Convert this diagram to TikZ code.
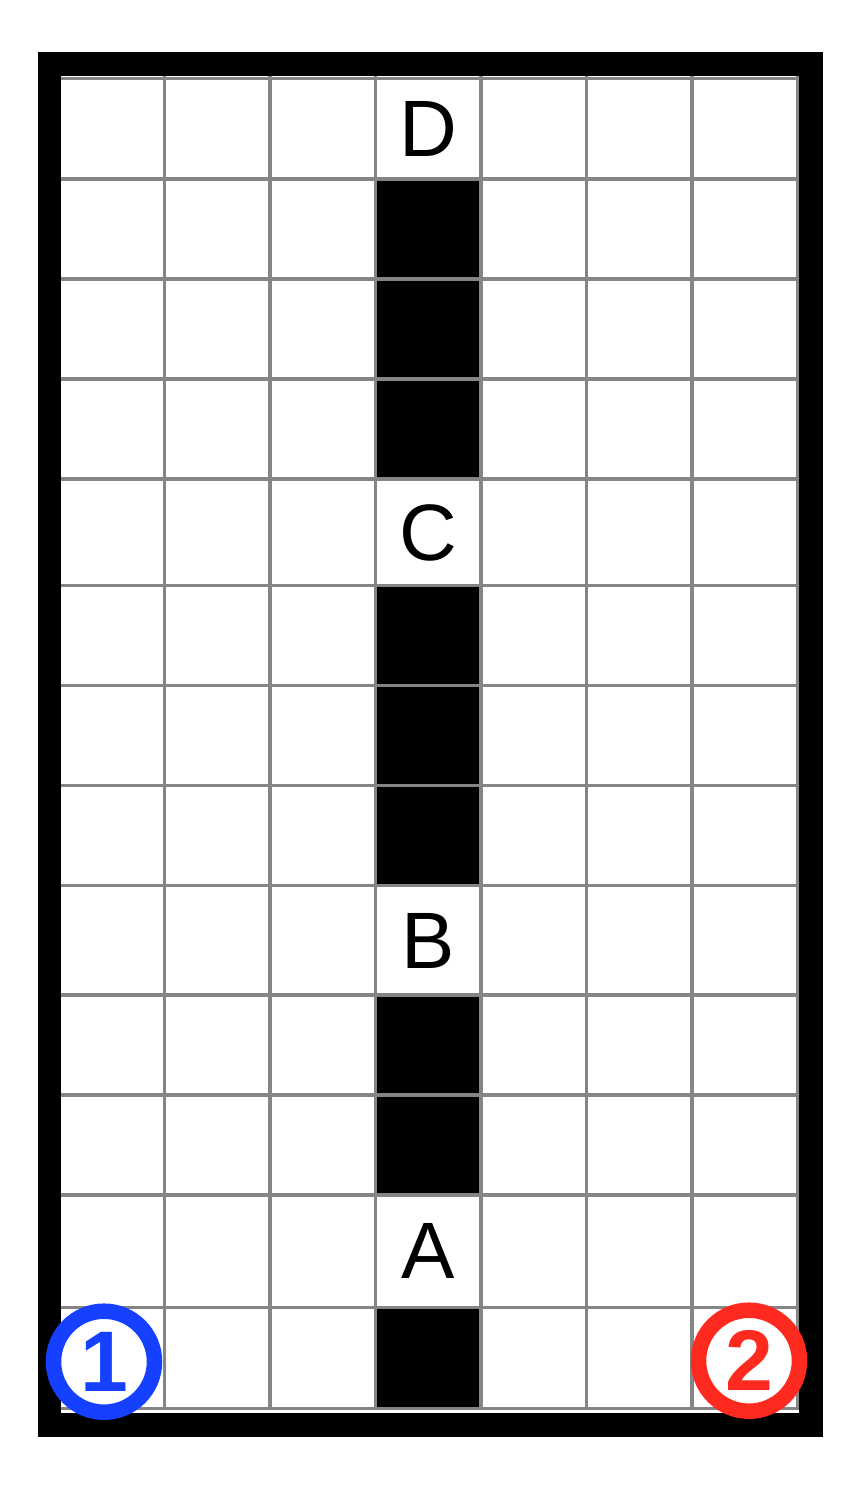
\documentclass[tikz,border=0pt]{standalone}
\usepackage{fontspec}
\setmainfont{Liberation Sans}
\definecolor{gridgray}{RGB}{133,133,133}
\definecolor{numblue}{RGB}{22,64,255}
\definecolor{numred}{RGB}{255,42,31}
\begin{document}
\begin{tikzpicture}[x=1pt,y=-1pt,
  letter/.style={font=\fontsize{80}{80}\selectfont, inner sep=0pt},
  badge/.style={circle, line width=15.5pt, minimum size=101pt, fill=white, inner sep=0pt,
                font=\fontsize{86}{86}\selectfont\bfseries},
  gridline/.style={draw=gridgray, line width=3.5pt},
  cellblack/.style={fill=black}]
\useasboundingbox (0,0) rectangle (854,1488);
\fill[white] (0,0) rectangle (854,1488);
% frame
\fill[black] (37.7,52.3) rectangle (822.7,1436.7);
\fill[white] (61,76) rectangle (799,1413);
% black cells
\fill[cellblack] (375.3,179) rectangle (480.8,479);
\fill[cellblack] (375.3,585.7) rectangle (480.8,885.7);
\fill[cellblack] (375.3,995) rectangle (480.8,1195);
\fill[cellblack] (375.3,1307.3) rectangle (480.8,1408.3);
% grid
\foreach \y in {78.3,179,279,379,479,585.7,685.7,785.7,885.7,995,1095,1195,1307.3,1408.3}
  \draw[gridline] (61,\y) -- (799,\y);
\foreach \x in {164.3,269.8,375.3,480.8,586.3,691.8,797.3}
  \draw[gridline] (\x,76) -- (\x,1410);
% letters
\node[letter] (D) at (428,128.7) {D};
\node[letter] (C) at (428,532.5) {C};
\node[letter] (B) at (428,941) {B};
\node[letter] (A) at (428,1251) {A};
% badges
\node[badge, draw=numblue, text=numblue] (one) at (104,1361.7) {1};
\node[badge, draw=numred, text=numred] (two) at (749,1360.7) {2};
\end{tikzpicture}
\end{document}
